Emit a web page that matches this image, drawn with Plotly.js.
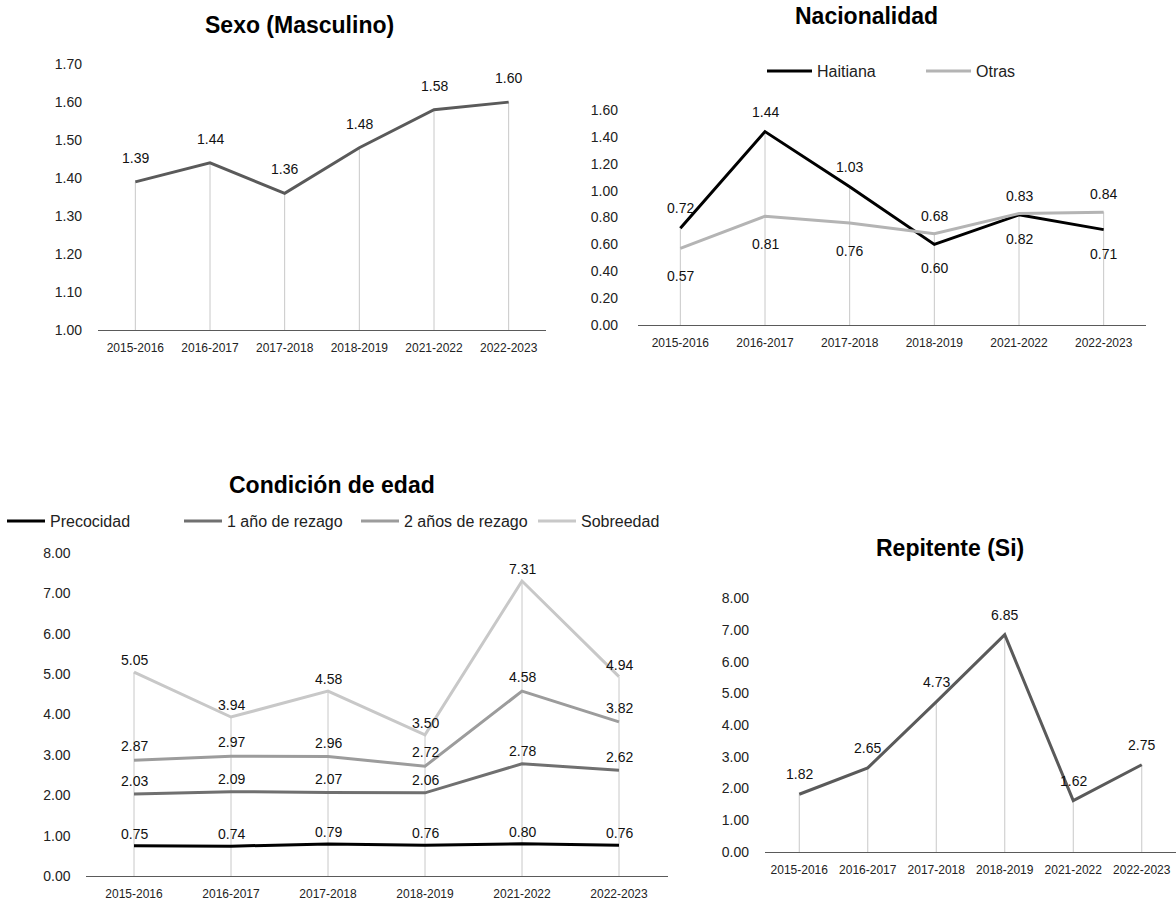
<!DOCTYPE html>
<html>
<head>
<meta charset="utf-8">
<script src="https://cdn.plot.ly/plotly-3.0.1.min.js"></script>
<style>html,body{margin:0;padding:0;background:#fff;}#chart{width:1176px;height:903px;}</style>
</head>
<body>
<div id="chart"></div>
<script>
// ---------- data ----------
const years = ['2015-2016', '2016-2017', '2017-2018', '2018-2019', '2021-2022', '2022-2023'];
const sexoMasculino = [1.39, 1.44, 1.36, 1.48, 1.58, 1.60];
const haitiana = [0.72, 1.44, 1.03, 0.60, 0.82, 0.71];
const otras = [0.57, 0.81, 0.76, 0.68, 0.83, 0.84];
const precocidad = [0.75, 0.74, 0.79, 0.76, 0.80, 0.76];
const rezago1 = [2.03, 2.09, 2.07, 2.06, 2.78, 2.62];
const rezago2 = [2.87, 2.97, 2.96, 2.72, 4.58, 3.82];
const sobreedad = [5.05, 3.94, 4.58, 3.50, 7.31, 4.94];
const repitente = [1.82, 2.65, 4.73, 6.85, 1.62, 2.75];
const titles = ['Sexo (Masculino)', 'Nacionalidad', 'Condición de edad', 'Repitente (Si)'];
const nacNames = ['Haitiana', 'Otras'];
const edadNames = ['Precocidad', '1 año de rezago', '2 años de rezago', 'Sobreedad'];

// ---------- helpers ----------
const W = 1176, H = 903;
const FONT = 'Liberation Sans, Arial, Helvetica, sans-serif';
const px = v => v / W;
const py = v => 1 - v / H;

function dropTrace(xa, ya, tops, base) {
  return {
    x: years, y: tops, xaxis: xa, yaxis: ya, type: 'scatter', mode: 'markers',
    marker: {size: 1, opacity: 0}, showlegend: false, hoverinfo: 'skip',
    error_y: {type: 'data', symmetric: false, array: tops.map(() => 0),
      arrayminus: tops.map(v => v - base), color: '#c8c8c8', thickness: 1, width: 0}
  };
}
function lineTrace(xa, ya, vals, color, name, legend) {
  const t = {
    x: years, y: vals, xaxis: xa, yaxis: ya, type: 'scatter', mode: 'lines',
    line: {color: color, width: 3}, name: name || '', showlegend: !!name, hoverinfo: 'x+y'
  };
  if (legend) t.legend = legend;
  return t;
}
function labels(xr, yr, vals, shifts) {
  return vals.map((v, i) => ({
    x: years[i], y: v, xref: xr, yref: yr, text: v.toFixed(2), showarrow: false,
    yshift: Array.isArray(shifts) ? shifts[i] : shifts,
    font: {family: FONT, size: 14, color: '#111'}
  }));
}
function xAxis(domain, anchor) {
  return {domain: domain, anchor: anchor, type: 'category', categoryarray: years, range: [-0.5, 5.5],
    showgrid: false, zeroline: false, showline: true, linecolor: '#5a5a5a', linewidth: 1,
    ticks: '', ticklabelstandoff: 7, tickfont: {family: FONT, size: 12, color: '#222'}, fixedrange: true};
}
function yAxis(domain, range, dtick, anchor, standoff) {
  return {domain: domain, range: range, dtick: dtick, tick0: 0, tickformat: '.2f', anchor: anchor,
    showgrid: false, zeroline: false, showline: false, ticks: '', ticklabelstandoff: standoff,
    tickfont: {family: FONT, size: 14, color: '#222'}, fixedrange: true};
}

const maxNac = years.map((_, i) => Math.max(haitiana[i], otras[i]));
const maxEdad = years.map((_, i) => Math.max(precocidad[i], rezago1[i], rezago2[i], sobreedad[i]));

const data = [
  dropTrace('x', 'y', sexoMasculino, 1.0),
  lineTrace('x', 'y', sexoMasculino, '#5a5a5a'),
  dropTrace('x2', 'y2', maxNac, 0),
  lineTrace('x2', 'y2', haitiana, '#000000', nacNames[0], 'legend'),
  lineTrace('x2', 'y2', otras, '#b4b4b4', nacNames[1], 'legend'),
  dropTrace('x3', 'y3', maxEdad, 0),
  lineTrace('x3', 'y3', precocidad, '#000000', edadNames[0], 'legend2'),
  lineTrace('x3', 'y3', rezago1, '#707070', edadNames[1], 'legend2'),
  lineTrace('x3', 'y3', rezago2, '#9c9c9c', edadNames[2], 'legend2'),
  lineTrace('x3', 'y3', sobreedad, '#c8c8c8', edadNames[3], 'legend2'),
  dropTrace('x4', 'y4', repitente, 0),
  lineTrace('x4', 'y4', repitente, '#5a5a5a')
];

const titleAnn = (text, x, y) => ({text: '<b>' + text + '</b>', x: px(x), y: py(y), xref: 'paper', yref: 'paper',
  xanchor: 'center', yanchor: 'middle', showarrow: false, font: {family: FONT, size: 23, color: '#000'}});

const annotations = [
  titleAnn(titles[0], 299, 25),
  titleAnn(titles[1], 866, 16),
  titleAnn(titles[2], 332, 485),
  titleAnn(titles[3], 950, 548),
  ...labels('x', 'y', sexoMasculino, 24),
  ...labels('x2', 'y2', haitiana, haitiana.map((v, i) => v >= otras[i] ? 20 : -24)),
  ...labels('x2', 'y2', otras, otras.map((v, i) => v > haitiana[i] ? 18 : -28)),
  ...labels('x3', 'y3', precocidad, 12),
  ...labels('x3', 'y3', rezago1, 13),
  ...labels('x3', 'y3', rezago2, 14),
  ...labels('x3', 'y3', sobreedad, 12),
  ...labels('x4', 'y4', repitente, 20)
];

const layout = {
  width: W, height: H, margin: {l: 0, r: 0, t: 0, b: 0},
  paper_bgcolor: '#fff', plot_bgcolor: 'rgba(0,0,0,0)',
  font: {family: FONT, color: '#222'},
  showlegend: true,
  xaxis: xAxis([px(98), px(546)], 'y'),
  yaxis: yAxis([py(330), py(64)], [1.0, 1.7004], 0.1, 'x', 15),
  xaxis2: xAxis([px(638), px(1146)], 'y2'),
  yaxis2: yAxis([py(325), py(110)], [0, 1.6008], 0.2, 'x2', 19),
  xaxis3: xAxis([px(85.5), px(667.5)], 'y3'),
  yaxis3: yAxis([py(876), py(553)], [0, 8.004], 1, 'x3', 14),
  xaxis4: xAxis([px(765), 1], 'y4'),
  yaxis4: yAxis([py(852), py(598)], [0, 8.004], 1, 'x4', 15),
  legend: {orientation: 'h', x: px(762), xanchor: 'left', y: py(71), yanchor: 'middle',
    font: {family: FONT, size: 16, color: '#222'}, bgcolor: 'rgba(0,0,0,0)', entrywidth: 99, itemwidth: 45},
  legend2: {orientation: 'h', x: px(2), xanchor: 'left', y: py(521), yanchor: 'middle',
    font: {family: FONT, size: 16, color: '#222'}, bgcolor: 'rgba(0,0,0,0)', entrywidth: 124, itemwidth: 38},
  annotations: annotations
};

Plotly.newPlot('chart', data, layout, {displayModeBar: false, staticPlot: true});
</script>
</body>
</html>
